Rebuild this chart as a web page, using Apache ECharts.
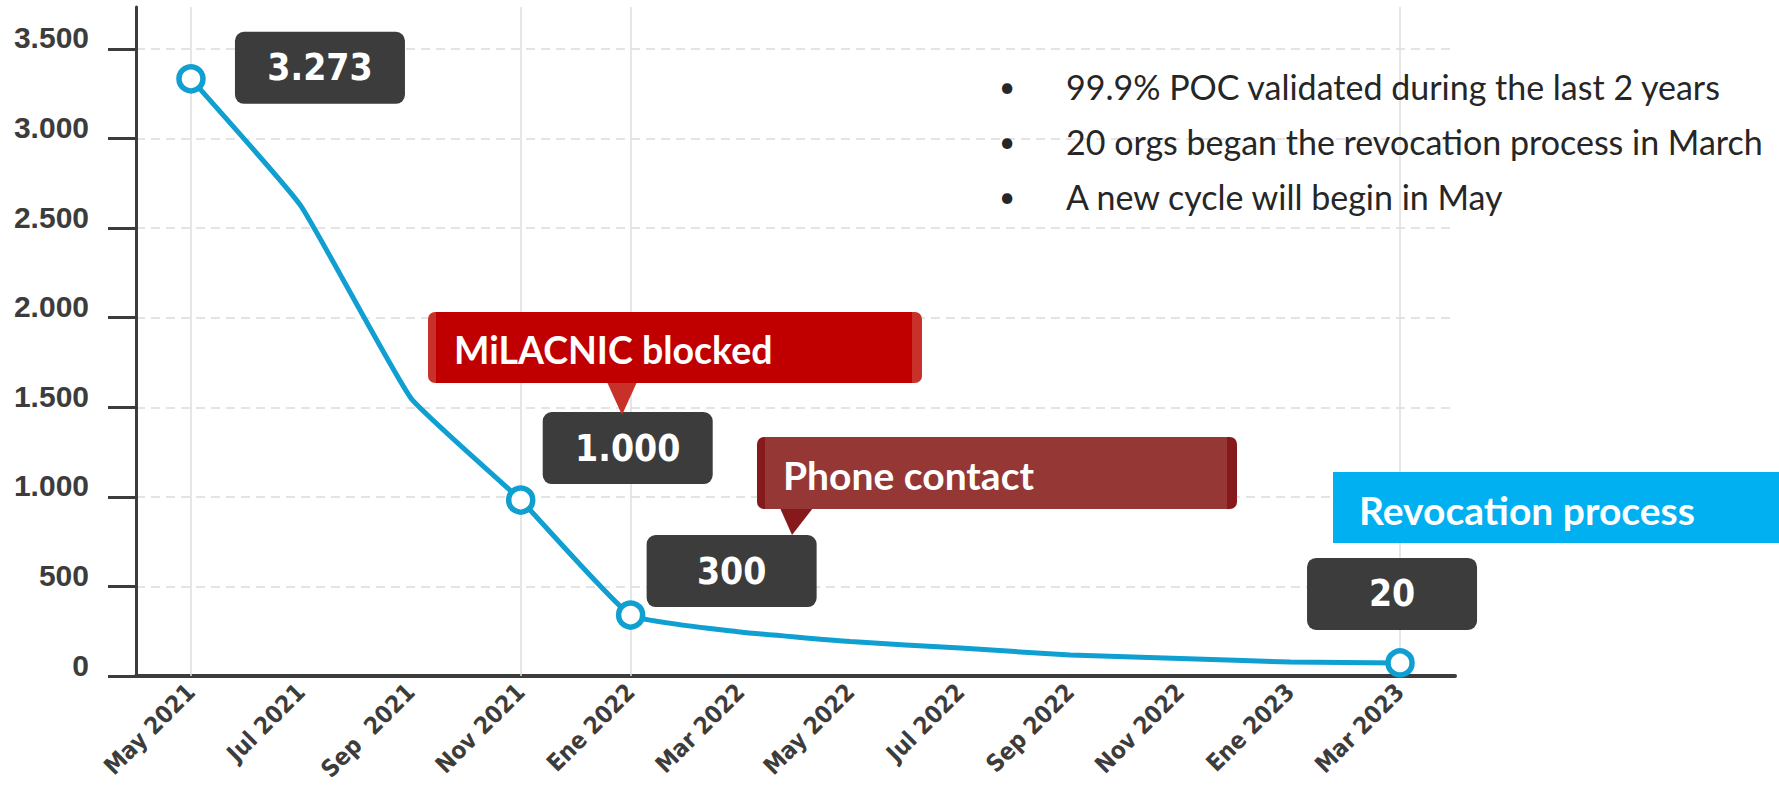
<!DOCTYPE html>
<html>
<head>
<meta charset="utf-8">
<title>POC validados</title>
<script src="https://cdn.jsdelivr.net/npm/echarts@6/dist/echarts.min.js"></script>
<style>
  html, body { margin: 0; padding: 0; background: #fff; }
  #chart { width: 1779px; height: 790px; }
</style>
</head>
<body>
<div id="chart"></div>
<script>
  // valores
  const months = ['May 2021', 'Jul 2021', 'Sep  2021', 'Nov 2021', 'Ene 2022', 'Mar 2022',
    'May 2022', 'Jul 2022', 'Sep 2022', 'Nov 2022', 'Ene 2023', 'Mar 2023'];
  const pocPending = [3333, 2624, 1552, 982, 340, 246, 192, 156, 117, 98, 78, 73];
  const markedMonths = ['May 2021', 'Nov 2021', 'Ene 2022', 'Mar 2023'];
  const markedLabels = ['3.273', '1.000', '300', '20'];
  const yTicks = [0, 500, 1000, 1500, 2000, 2500, 3000, 3500];
  const yTickLabels = ['0', '500', '1.000', '1.500', '2.000', '2.500', '3.000', '3.500'];
  const notes = [
    '99.9% POC validated during the last 2 years',
    '20 orgs began the revocation process in March',
    'A new cycle will begin in May'
  ];
  const events = ['MiLACNIC blocked', 'Phone contact', 'Revocation process'];

  const blue = '#0f9fd1';
  const dark = '#3c3c3c';
  const narrow = "'Liberation Sans Narrow', 'DejaVu Sans Condensed', sans-serif";

  // donde va cada cartel respecto a su punto
  const labelOffset = {
    'May 2021': [129, -11],
    'Nov 2021': [107, -52],
    'Ene 2022': [101, -44],
    'Mar 2023': [-8, -69]
  };

  const seriesData = pocPending.map(function (v, i) {
    const k = markedMonths.indexOf(months[i]);
    if (k < 0) return { value: v, symbol: 'none' };
    return {
      value: v,
      symbol: 'circle',
      label: {
        show: true,
        position: 'inside',
        offset: labelOffset[months[i]],
        formatter: markedLabels[k],
        color: '#fff',
        fontFamily: narrow,
        fontWeight: 'bold',
        fontSize: 37,
        backgroundColor: dark,
        borderRadius: 9,
        width: 170,
        height: 72,
        lineHeight: 72,
        align: 'center',
        verticalAlign: 'middle'
      }
    };
  });

  function callout(x, y, w, h, main, edge, text, fontSize, tri) {
    const els = [];
    if (edge) {
      els.push({ type: 'rect', z: 100, shape: { x: x, y: y, width: w, height: h, r: 7 }, style: { fill: edge } });
      els.push({ type: 'rect', z: 101, shape: { x: x + 8, y: y, width: w - 18, height: h }, style: { fill: main } });
    } else {
      els.push({ type: 'rect', z: 100, shape: { x: x, y: y, width: w, height: h }, style: { fill: main } });
    }
    if (tri) {
      els.push({ type: 'polygon', z: 100, shape: { points: tri }, style: { fill: edge } });
    }
    els.push({
      type: 'text', z: 102, x: x + 26, y: y + h / 2 + 2,
      style: {
        text: text, fill: '#fff', font: 'bold ' + fontSize + 'px Lato, sans-serif',
        verticalAlign: 'middle', align: 'left'
      }
    });
    return els;
  }

  const noteEls = [];
  notes.forEach(function (t, i) {
    const cy = 86 + i * 55;
    noteEls.push({ type: 'text', z: 100, x: 1007, y: cy, style: { text: '•', fill: '#262626', font: '28px Lato, sans-serif', align: 'center', verticalAlign: 'middle' } });
    noteEls.push({ type: 'text', z: 100, x: 1066, y: cy, style: { text: t, fill: '#262626', font: '34px Lato, sans-serif', align: 'left', verticalAlign: 'middle' } });
  });

  const chart = echarts.init(document.getElementById('chart'), null, { renderer: 'svg' });
  chart.setOption({
    animation: false,
    backgroundColor: '#fff',
    grid: { left: 136, right: 324, top: 7, bottom: 114, containLabel: false, outerBoundsMode: 'none' },
    xAxis: {
      type: 'category',
      data: months,
      boundaryGap: true,
      axisLine: { lineStyle: { color: dark, width: 4 } },
      axisTick: { show: false },
      axisLabel: {
        interval: 0, rotate: 45, margin: 12,
        fontFamily: narrow, fontWeight: 'bold', fontSize: 24, color: dark
      },
      splitLine: { show: false }
    },
    yAxis: {
      type: 'value',
      min: 0,
      max: 3734,
      axisLine: { show: true, lineStyle: { color: dark, width: 3 } },
      axisTick: { show: true, length: 28, customValues: yTicks, lineStyle: { color: dark, width: 3 } },
      axisLabel: {
        customValues: yTicks,
        formatter: function (v) { return yTickLabels[yTicks.indexOf(v)]; },
        margin: 47,
        verticalAlign: 'bottom',
        lineHeight: 22,
        fontFamily: "'Liberation Sans', Arial, sans-serif",
        fontWeight: 'bold', fontSize: 30, color: dark
      },
      splitLine: { show: true, lineStyle: { color: '#dcdcdc', width: 1.5, type: [9, 6] } }
    },
    series: [{
      type: 'line',
      data: seriesData,
      smooth: 0.12,
      symbolSize: 24,
      showAllSymbol: true,
      lineStyle: { color: blue, width: 5 },
      itemStyle: { color: '#fff', borderColor: blue, borderWidth: 5.5 },
      z: 3,
      markLine: {
        silent: true,
        z: 1,
        symbol: 'none',
        label: { show: false },
        lineStyle: { color: '#dedede', width: 1.5, type: 'solid' },
        data: markedMonths.map(function (m) { return { xAxis: m }; })
      }
    }],
    graphic: [].concat(
      callout(428, 312, 494, 71, '#c00000', '#c8302a', events[0], 37.5, [[607, 382], [637, 382], [622, 415]]),
      callout(757, 437, 480, 72, '#953735', '#86191b', events[1], 39, [[780, 508], [813, 508], [792, 535]]),
      callout(1333, 472, 446, 71, '#00b0f0', null, events[2], 39, null),
      noteEls
    )
  });
</script>
</body>
</html>
